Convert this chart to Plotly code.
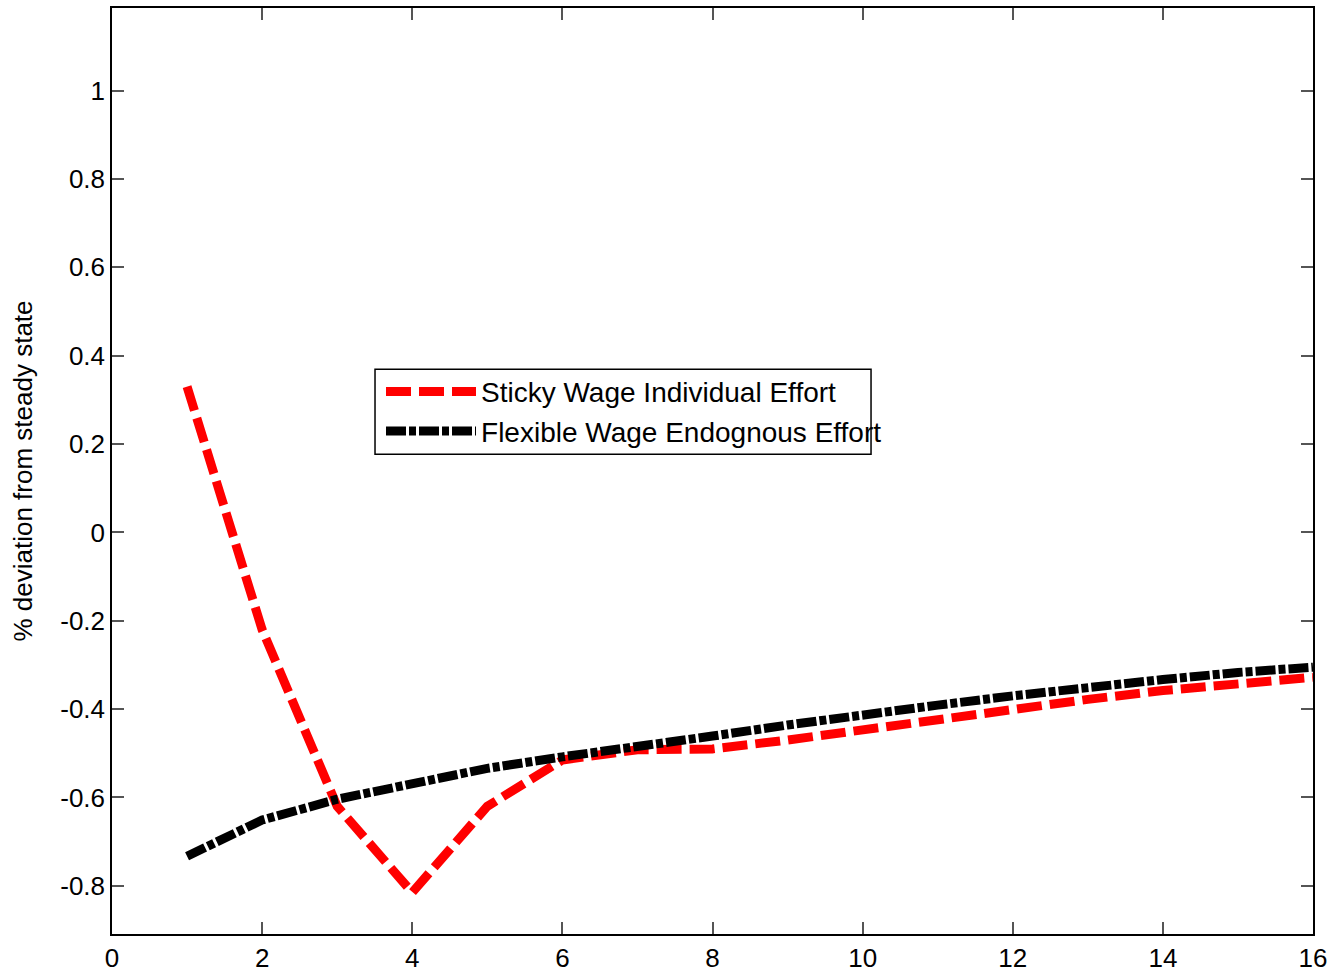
import plotly.graph_objects as go

# Impulse responses, quarters 1..16
quarters = list(range(1, 17))
sticky_wage_individual = [0.33, -0.22, -0.62, -0.815, -0.62, -0.515, -0.492, -0.49,
                          -0.47, -0.446, -0.423, -0.40, -0.378, -0.358, -0.342, -0.328]
flexible_wage_endogenous = [-0.733, -0.651, -0.604, -0.567, -0.534, -0.508, -0.482, -0.461,
                            -0.436, -0.411, -0.391, -0.370, -0.350, -0.333, -0.317, -0.305]

x_ticks = list(range(0, 17, 2))
y_ticks = [-0.8, -0.6, -0.4, -0.2, 0, 0.2, 0.4, 0.6, 0.8, 1]
y_tick_text = ["-0.8", "-0.6", "-0.4", "-0.2", "0", "0.2", "0.4", "0.6", "0.8", "1"]

FONT = "Liberation Sans, Arial, sans-serif"

fig = go.Figure()
fig.add_trace(go.Scatter(
    x=quarters, y=sticky_wage_individual, mode="lines",
    name="Sticky Wage Individual Effort", legendgroup="a",
    line=dict(color="#ff0000", width=9, dash="25px,8px"),
))
fig.add_trace(go.Scatter(
    x=quarters, y=flexible_wage_endogenous, mode="lines",
    name="Flexible Wage Endognous Effort", legendgroup="b",
    line=dict(color="#000000", width=9, dash="20px,3px,7px,3px"),
))

axis_common = dict(
    showgrid=False, zeroline=False, showline=True, linecolor="black", linewidth=1.5,
    mirror="ticks", ticks="inside", ticklen=12, tickcolor="#555555", tickwidth=1.5,
    tickfont=dict(family=FONT, size=26, color="black"), automargin=False,
)

fig.update_layout(
    width=1335, height=975,
    margin=dict(l=112, r=22, t=8, b=41),
    paper_bgcolor="white", plot_bgcolor="white",
    font=dict(family=FONT, color="black"),
    xaxis=dict(range=[0, 16], tickvals=x_ticks, **axis_common),
    yaxis=dict(range=[-0.909, 1.187], tickvals=y_ticks, ticktext=y_tick_text,
               title=dict(text="% deviation from steady state",
                          font=dict(family=FONT, size=26), standoff=20),
               **axis_common),
    legend=dict(
        x=0.224, y=0.6125, xanchor="left", yanchor="top",
        bgcolor="rgba(0,0,0,0)", borderwidth=0,
        font=dict(family=FONT, size=28, color="black"),
        itemwidth=90, traceorder="grouped", tracegroupgap=0,
    ),
    shapes=[dict(type="rect", xref="paper", yref="paper",
                 x0=0.219, x1=0.632, y0=0.518, y1=0.610,
                 line=dict(color="black", width=1.5), layer="above")],
)

fig.write_html("out.html")
